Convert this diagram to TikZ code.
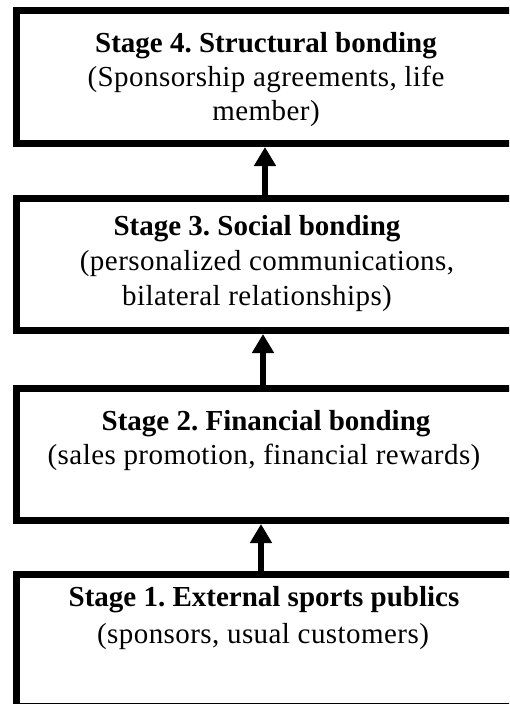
\documentclass[tikz,border=0pt]{standalone}
\usepackage{fontspec}
\setmainfont{Liberation Serif}
\newfontfamily\regfont[LetterSpace=1.5]{Liberation Serif}
\usetikzlibrary{arrows.meta}
\frenchspacing
\begin{document}
\begin{tikzpicture}[x=1pt,y=-1pt,
  stagebox/.style={draw=black, line width=7pt, fill=white, minimum width=507.5pt, inner sep=0pt},
  txt/.style={anchor=base, inner sep=0pt, font=\fontsize{29}{34}\regfont},
  ttl/.style={anchor=base, inner sep=0pt, font=\fontsize{29}{34}\selectfont\bfseries},
  uparrow/.style={line width=5.5pt, -{Triangle[length=19pt,width=21pt]}}]
\useasboundingbox (0,0) rectangle (509,704);
\fill[white] (0,0) rectangle (509,704);
\clip (0,0) rectangle (509,704);
% boxes
\node[stagebox, minimum height=133pt] (s4) at (270.25,77) {};
\node[stagebox, minimum height=132pt] (s3) at (270.25,264.5) {};
\node[stagebox, minimum height=132pt] (s2) at (270.25,454.5) {};
\node[stagebox, minimum height=132pt] (s1) at (270.25,640) {};
% texts
\node[ttl] (t4a) at (266,52) {Stage 4. Structural bonding};
\node[txt] (t4b) at (266,86) {(Sponsorship agreements, life};
\node[txt] (t4c) at (266,120) {member)};
\node[ttl] (t3a) at (257,235) {Stage 3. Social bonding};
\node[txt] (t3b) at (267,270) {(personalized communications,};
\node[txt] (t3c) at (257,305) {bilateral relationships)};
\node[ttl] (t2a) at (266,430) {Stage 2. Financial bonding};
\node[txt] (t2b) at (264,464) {(sales promotion, financial rewards)};
\node[ttl] (t1a) at (264,606) {Stage 1. External sports publics};
\node[txt] (t1b) at (263,643) {(sponsors, usual customers)};
% arrows
\coordinate (a3) at (265,0);
\coordinate (a2) at (263,0);
\coordinate (a1) at (261,0);
\draw[uparrow] (s3.north -| a3) -- (s4.south -| a3);
\draw[uparrow] (s2.north -| a2) -- (s3.south -| a2);
\draw[uparrow] (s1.north -| a1) -- (s2.south -| a1);
\end{tikzpicture}
\end{document}
